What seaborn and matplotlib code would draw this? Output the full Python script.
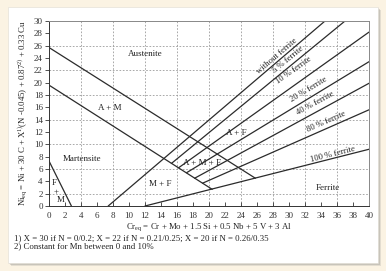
import numpy as np
import pandas as pd
import matplotlib
matplotlib.use("Agg")
import matplotlib.pyplot as plt
from matplotlib.patches import Rectangle
import seaborn as sns

# ---------------- data ----------------
seg_names = ["A/A+M", "A+M/M", "F+M", "without", "5%", "10%", "20%", "40%", "80%", "100%"]
seg_x0 = [0.0, 0.0, 0.0, 7.4, 15.3, 16.2, 17.2, 18.2, 19.2, 12.0]
seg_y0 = [25.7, 19.6, 7.3, 0.0, 6.9, 6.2, 5.4, 4.5, 3.7, 0.0]
seg_x1 = [25.8, 20.4, 2.8, 34.5, 37.0, 40.0, 40.0, 40.0, 40.0, 40.0]
seg_y1 = [4.5, 2.7, 0.0, 30.0, 30.0, 28.2, 23.4, 19.9, 15.6, 9.2]

ferrite_labels = ["without ferrite", "5 % ferrite", "10 % ferrite", "20 % ferrite",
                  "40 % ferrite", "80 % ferrite", "100 % ferrite"]
ferrite_seg = ["without", "5%", "10%", "20%", "40%", "80%", "100%"]
ferrite_lx = [28.5, 29.9, 30.6, 32.4, 33.3, 34.7, 35.5]
ferrite_ly = [24.3, 23.8, 22.0, 18.9, 16.7, 13.6, 8.4]

region_labels = ["Austenite", "A + M", "Martensite", "M + F", "A + M + F", "A + F", "Ferrite", "F", "+", "M"]
region_x = [12.0, 7.6, 4.1, 13.9, 19.1, 23.4, 34.9, 0.6, 0.9, 1.5]
region_y = [24.6, 15.9, 7.6, 3.5, 6.9, 11.8, 2.9, 3.8, 2.2, 0.9]

x_ticks = list(range(0, 41, 2))
y_ticks = list(range(0, 31, 2))
grid_x = list(range(4, 40, 4))
grid_y = list(range(2, 30, 4))

xlabel = r"Cr$_{\mathrm{eq}}$ = Cr + Mo + 1.5 Si + 0.5 Nb + 5 V + 3 Al"
ylabel = r"Ni$_{\mathrm{eq}}$ = Ni + 30 C + X$^{1)}$(N -0.045) + 0.87$^{2)}$ + 0.33 Cu"
notes = ["1) X = 30 if N = 0/0.2; X = 22 if N = 0.21/0.25; X = 20 if N = 0.26/0.35",
         "2) Constant for Mn between 0 and 10%"]

# ---------------- style ----------------
sns.set_theme(style="white")
plt.rcParams["font.family"] = ["Liberation Serif", "DejaVu Serif"]
plt.rcParams["mathtext.fontset"] = "custom"
plt.rcParams["mathtext.rm"] = "Liberation Serif"
plt.rcParams["mathtext.it"] = "Liberation Serif:italic"

W, H = 386, 271
fig = plt.figure(figsize=(W / 100, H / 100), dpi=100, facecolor="#fbf3e3")

# card with shadow
for off, a in [(3, 0.18), (2, 0.25), (1, 0.35)]:
    fig.patches.append(Rectangle((8 / W + off / W, (271 - 263 - off) / H), 370 / W, 256 / H,
                                 transform=fig.transFigure, facecolor="#7a7a7a",
                                 alpha=a, edgecolor="none", zorder=0))
fig.patches.append(Rectangle((8 / W, (271 - 263) / H), 370 / W, 256 / H,
                             transform=fig.transFigure, facecolor="white",
                             edgecolor="#e6e1d8", lw=0.5, zorder=1))

ax = fig.add_axes([49 / W, (271 - 206) / H, 320 / W, 185 / H])
ax.set_facecolor("white")
ax.set_zorder(2)

df = pd.DataFrame({
    "seg": np.repeat(seg_names, 2),
    "x": np.ravel(np.column_stack([seg_x0, seg_x1])),
    "y": np.ravel(np.column_stack([seg_y0, seg_y1])),
})
sns.lineplot(data=df, x="x", y="y", units="seg", estimator=None, sort=False,
             color="#2b2b2b", lw=0.9, ax=ax, legend=False)

ax.set_xlim(0, 40)
ax.set_ylim(0, 30)
for gx in grid_x:
    ax.axvline(gx, color="#9a9a9a", lw=0.6, ls=(0, (2, 2)), zorder=0)
for gy in grid_y:
    ax.axhline(gy, color="#9a9a9a", lw=0.6, ls=(0, (2, 2)), zorder=0)

ax.set_xticks(x_ticks)
ax.set_yticks(y_ticks)
ax.tick_params(axis="x", direction="in", length=3, width=0.6, labelsize=6.5, pad=4.5, colors="#333333")
ax.tick_params(axis="y", direction="out", length=3, width=0.6, labelsize=6.5, pad=1.5, colors="#333333")
ax.tick_params(bottom=True, left=True)
for s in ax.spines.values():
    s.set_color("#333333")
    s.set_linewidth(0.7)
ax.spines["top"].set_color("#888888")
ax.spines["right"].set_color("#888888")
ax.set_xlabel(xlabel, fontsize=6.3, labelpad=0.5, color="#222222")
ax.set_ylabel(ylabel, fontsize=6.3, labelpad=3, color="#222222")

fig.canvas.draw()
seg_idx = {n: i for i, n in enumerate(seg_names)}
for lab, sn, lx, ly in zip(ferrite_labels, ferrite_seg, ferrite_lx, ferrite_ly):
    i = seg_idx[sn]
    p0 = ax.transData.transform((seg_x0[i], seg_y0[i]))
    p1 = ax.transData.transform((seg_x1[i], seg_y1[i]))
    ang = np.degrees(np.arctan2(p1[1] - p0[1], p1[0] - p0[0]))
    ax.text(lx, ly, lab, rotation=ang, rotation_mode="anchor", ha="center", va="center",
            fontsize=6.2, color="#222222")

for lab, rx, ry in zip(region_labels, region_x, region_y):
    ax.text(rx, ry, lab, ha="center", va="center", fontsize=6.5, color="#222222")

for k, note in enumerate(notes):
    fig.text(14 / W, 1 - (238.5 + 8 * k) / H, note, ha="left", va="center",
             fontsize=6.3, color="#222222")

fig.savefig("out.png", dpi=100, facecolor=fig.get_facecolor())
